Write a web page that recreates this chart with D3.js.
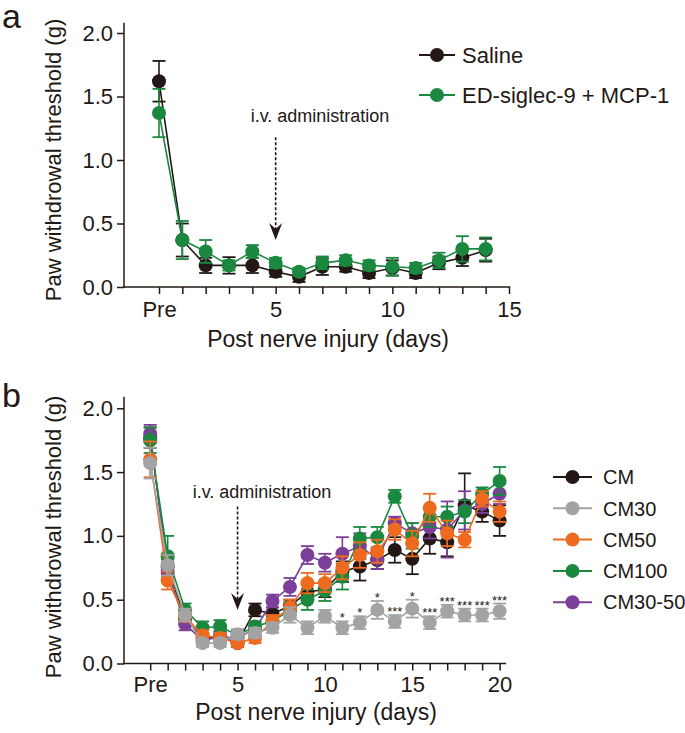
<!DOCTYPE html>
<html>
<head>
<meta charset="utf-8">
<script src="https://cdn.jsdelivr.net/npm/d3@7"></script>
<style>
  html, body { margin: 0; padding: 0; background: #ffffff; }
  svg { display: block; font-family: "Liberation Sans", Arial, Helvetica, sans-serif; }
</style>
</head>
<body>
<svg id="chart" width="685" height="733"></svg>
<script>
// ---------------- DATA ----------------
// Panel a
const daysA = d3.range(0, 15);               // 0 = Pre, 1..14 days
const xTicksA = d3.range(0, 16);
const xTickLabelsA = {0: "Pre", 5: "5", 10: "10", 15: "15"};
const salineMean = [1.62, 0.37, 0.17, 0.17, 0.17, 0.12, 0.08, 0.16, 0.16, 0.11, 0.15, 0.11, 0.19, 0.23, 0.29];
const salineErr  = [0.16, 0.13, 0.06, 0.065, 0.06, 0.04, 0.04, 0.065, 0.04, 0.04, 0.06, 0.04, 0.05, 0.065, 0.09];
const edMean     = [1.37, 0.37, 0.28, 0.17, 0.28, 0.19, 0.12, 0.19, 0.21, 0.17, 0.16, 0.15, 0.21, 0.30, 0.30];
const edErr      = [0.19, 0.15, 0.09, 0.04, 0.05, 0.04, 0.03, 0.05, 0.04, 0.04, 0.07, 0.04, 0.06, 0.10, 0.09];
const seriesNamesA = ["Saline", "ED-siglec-9 + MCP-1"];

// Panel b
const daysB = d3.range(0, 21);
const xTicksB = d3.range(0, 21);
const xTickLabelsB = {0: "Pre", 5: "5", 10: "10", 15: "15", 20: "20"};
const cmMean     = [1.77, 0.76, 0.35, 0.20, 0.21, 0.16, 0.42, 0.39, 0.45, 0.56, 0.58, 0.72, 0.76, 0.81, 0.89, 0.82, 0.98, 0.95, 1.24, 1.19, 1.12];
const cmErr      = [0.08, 0.06, 0.04, 0.04, 0.04, 0.03, 0.05, 0.05, 0.05, 0.06, 0.06, 0.08, 0.11, 0.07, 0.10, 0.12, 0.12, 0.11, 0.25, 0.08, 0.12];
const cm30Mean   = [1.57, 0.77, 0.38, 0.16, 0.16, 0.23, 0.24, 0.28, 0.38, 0.28, 0.37, 0.28, 0.32, 0.42, 0.33, 0.43, 0.32, 0.41, 0.38, 0.38, 0.41];
const cm30Err    = [0.12, 0.08, 0.05, 0.03, 0.03, 0.04, 0.04, 0.04, 0.06, 0.05, 0.05, 0.05, 0.05, 0.07, 0.05, 0.07, 0.05, 0.05, 0.05, 0.05, 0.06];
const cm50Mean   = [1.60, 0.65, 0.37, 0.22, 0.20, 0.16, 0.20, 0.33, 0.44, 0.63, 0.63, 0.75, 0.85, 0.88, 1.05, 0.94, 1.22, 1.02, 0.97, 1.29, 1.19];
const cm50Err    = [0.14, 0.07, 0.04, 0.04, 0.04, 0.03, 0.04, 0.05, 0.06, 0.08, 0.07, 0.09, 0.10, 0.09, 0.08, 0.10, 0.11, 0.10, 0.06, 0.06, 0.08];
const cm100Mean  = [1.75, 0.84, 0.42, 0.28, 0.29, 0.22, 0.29, 0.33, 0.42, 0.50, 0.57, 0.68, 0.98, 0.99, 1.31, 1.00, 1.15, 1.15, 1.19, 1.33, 1.43];
const cm100Err   = [0.10, 0.16, 0.05, 0.05, 0.05, 0.04, 0.04, 0.04, 0.06, 0.08, 0.08, 0.10, 0.09, 0.08, 0.05, 0.10, 0.08, 0.08, 0.09, 0.05, 0.11];
const cm3050Mean = [1.80, 0.72, 0.31, 0.18, 0.21, 0.20, 0.27, 0.49, 0.60, 0.85, 0.79, 0.86, 0.92, 0.82, 1.10, 1.02, 1.07, 1.05, 1.20, 1.25, 1.33];
const cm3050Err  = [0.07, 0.08, 0.05, 0.04, 0.04, 0.04, 0.05, 0.05, 0.07, 0.07, 0.07, 0.13, 0.10, 0.08, 0.05, 0.08, 0.09, 0.22, 0.15, 0.07, 0.08];
const seriesNamesB = ["CM", "CM30", "CM50", "CM100", "CM30-50"];
const cm30Stars  = ["", "", "", "", "", "", "", "", "", "", "", "*", "*", "*", "***", "*", "***", "***", "***", "***", "***"];

const yTickValues = [0, 0.5, 1.0, 1.5, 2.0];
const yLabel = "Paw withdrowal threshold (g)";
const xLabel = "Post nerve injury (days)";
const annotationText = "i.v. administration";

// ---------------- STYLE ----------------
const C = {
  black: "#231815", gray: "#a3a3a3", orange: "#ee6a1f", green: "#1b8840", purple: "#7c3f99"
};
const axisColor = "#231815";
const R = 7;

const svg = d3.select("#chart");

function drawPanel(cfg) {
  const g = svg.append("g");
  const { x, y } = cfg;

  // y axis
  const yAxis = d3.axisLeft(y).tickValues(yTickValues).tickFormat(d3.format(".1f"))
    .tickSize(7).tickPadding(4).tickSizeOuter(0);
  const ya = g.append("g").attr("transform", `translate(${x.range()[0]},0)`).call(yAxis);
  ya.select(".domain").remove();
  ya.selectAll("line").attr("stroke", axisColor).attr("stroke-width", 1.5);
  ya.selectAll("text").attr("fill", axisColor).style("font-size", "22px");
  g.append("line").attr("x1", x.range()[0]).attr("x2", x.range()[0])
    .attr("y1", y(0) + 0.75).attr("y2", y(cfg.yTop))
    .attr("stroke", axisColor).attr("stroke-width", 1.5);

  // x axis
  const xAxis = d3.axisBottom(x).tickValues(cfg.xTicks)
    .tickFormat(d => cfg.xTickLabels[d] || "")
    .tickSize(7).tickPadding(cfg.xPad).tickSizeOuter(0);
  const xa = g.append("g").attr("transform", `translate(0,${y(0)})`).call(xAxis);
  xa.select(".domain").remove();
  xa.selectAll("line").attr("stroke", axisColor).attr("stroke-width", 1.5);
  xa.selectAll("text").attr("fill", axisColor).style("font-size", "22px");
  g.append("line").attr("x1", x.range()[0] - 0.75).attr("x2", x(cfg.xEnd))
    .attr("y1", y(0)).attr("y2", y(0))
    .attr("stroke", axisColor).attr("stroke-width", 1.5);

  // axis titles
  g.append("text").attr("x", cfg.xTitleX).attr("y", cfg.xTitleY)
    .attr("text-anchor", "middle").style("font-size", "23px").attr("fill", axisColor)
    .text(xLabel);
  g.append("text").attr("transform", `translate(${cfg.yTitleX},${cfg.yTitleY}) rotate(-90)`)
    .attr("text-anchor", "middle").style("font-size", "22px").attr("fill", axisColor)
    .text(yLabel);

  // panel letter
  g.append("text").attr("x", 2).attr("y", cfg.letterY)
    .style("font-size", "34px").attr("fill", axisColor).text(cfg.letter);

  // annotation
  const ax = x(5);
  g.append("text").attr("x", x(cfg.annX)).attr("y", y(1.30))
    .attr("text-anchor", "middle").style("font-size", "18px").attr("fill", axisColor)
    .text(annotationText);
  const tipY = y(cfg.annTip);
  g.append("line").attr("x1", ax).attr("x2", ax)
    .attr("y1", y(cfg.annStart)).attr("y2", tipY - 10)
    .attr("stroke", axisColor).attr("stroke-width", 1.6).attr("stroke-dasharray", "3,2");
  g.append("path")
    .attr("d", `M${ax},${tipY} L${ax - 6.5},${tipY - 17} L${ax},${tipY - 11} L${ax + 6.5},${tipY - 17} Z`)
    .attr("fill", axisColor);

  // series
  cfg.series.forEach(s => {
    const sg = g.append("g");
    const pts = cfg.days.map((d, i) => ({ d, m: s.mean[i], e: s.err[i] }));
    // error bars
    const eb = sg.selectAll("g.eb").data(pts).enter().append("g");
    eb.append("line").attr("x1", p => x(p.d)).attr("x2", p => x(p.d))
      .attr("y1", p => y(p.m - p.e)).attr("y2", p => y(p.m + p.e))
      .attr("stroke", s.color).attr("stroke-width", 1.6);
    eb.append("line").attr("x1", p => x(p.d) - 6.5).attr("x2", p => x(p.d) + 6.5)
      .attr("y1", p => y(p.m + p.e)).attr("y2", p => y(p.m + p.e))
      .attr("stroke", s.color).attr("stroke-width", 1.8);
    eb.append("line").attr("x1", p => x(p.d) - 6.5).attr("x2", p => x(p.d) + 6.5)
      .attr("y1", p => y(p.m - p.e)).attr("y2", p => y(p.m - p.e))
      .attr("stroke", s.color).attr("stroke-width", 1.8);
    // line
    sg.append("path").datum(pts)
      .attr("d", d3.line().x(p => x(p.d)).y(p => y(p.m)))
      .attr("fill", "none").attr("stroke", s.color).attr("stroke-width", 1.6);
    // markers
    sg.selectAll("circle").data(pts).enter().append("circle")
      .attr("cx", p => x(p.d)).attr("cy", p => y(p.m)).attr("r", R)
      .attr("fill", s.color);
    // stars
    if (s.stars) {
      sg.selectAll("text.star").data(pts).enter().append("text")
        .attr("x", p => x(p.d)).attr("y", (p, i) => y(p.m + p.e) + 1)
        .attr("text-anchor", "middle").style("font-size", "13px").attr("fill", axisColor)
        .text((p, i) => s.stars[i]);
    }
  });

  // legend
  cfg.legend.items.forEach((s, i) => {
    const ly = cfg.legend.y0 + i * cfg.legend.dy;
    const lx = cfg.legend.x0;
    g.append("line").attr("x1", lx).attr("x2", lx + cfg.legend.w).attr("y1", ly).attr("y2", ly)
      .attr("stroke", s.color).attr("stroke-width", 2);
    g.append("circle").attr("cx", lx + cfg.legend.w / 2).attr("cy", ly).attr("r", R).attr("fill", s.color);
    g.append("text").attr("x", lx + cfg.legend.w + cfg.legend.gap).attr("y", ly)
      .attr("dy", "0.36em").style("font-size", cfg.legend.font).attr("fill", axisColor)
      .text(s.name);
  });
}

// Panel a
const xA = d3.scaleLinear().domain([-1.5, 15]).range([124, 509]);
const yA = d3.scaleLinear().domain([0, 2]).range([287, 33]);
const seriesA = [
  { name: seriesNamesA[0], mean: salineMean, err: salineErr, color: C.black },
  { name: seriesNamesA[1], mean: edMean, err: edErr, color: C.green }
];
drawPanel({
  x: xA, y: yA, yTop: 2.08, xEnd: 15.05, xTicks: xTicksA, xTickLabels: xTickLabelsA, xPad: 7,
  days: daysA, series: seriesA,
  xTitleX: 328, xTitleY: 347, yTitleX: 61, yTitleY: 160,
  letter: "a", letterY: 28,
  annX: 6.9, annTip: 0.37, annStart: 1.18,
  legend: { items: seriesA, x0: 419, y0: 55, dy: 40, w: 36, gap: 7, font: "22px" }
});

// Panel b
const xB = d3.scaleLinear().domain([-1.5, 20]).range([124, 499.6]);
const yB = d3.scaleLinear().domain([0, 2]).range([663.5, 408.3]);
const seriesB = [
  { name: seriesNamesB[0], mean: cmMean, err: cmErr, color: C.black },
  { name: seriesNamesB[4], mean: cm3050Mean, err: cm3050Err, color: C.purple },
  { name: seriesNamesB[3], mean: cm100Mean, err: cm100Err, color: C.green },
  { name: seriesNamesB[2], mean: cm50Mean, err: cm50Err, color: C.orange },
  { name: seriesNamesB[1], mean: cm30Mean, err: cm30Err, color: C.gray, stars: cm30Stars }
];
const legendOrderB = [seriesB[0], seriesB[4], seriesB[3], seriesB[2], seriesB[1]];
drawPanel({
  x: xB, y: yB, yTop: 2.09, xEnd: 20.37, xTicks: xTicksB, xTickLabels: xTickLabelsB, xPad: 6,
  days: daysB, series: seriesB,
  xTitleX: 316, xTitleY: 720, yTitleX: 61, yTitleY: 537,
  letter: "b", letterY: 407,
  annX: 6.4, annTip: 0.42, annStart: 1.23,
  legend: { items: legendOrderB, x0: 553, y0: 477, dy: 31.3, w: 39, gap: 11, font: "20px" }
});
</script>
</body>
</html>
